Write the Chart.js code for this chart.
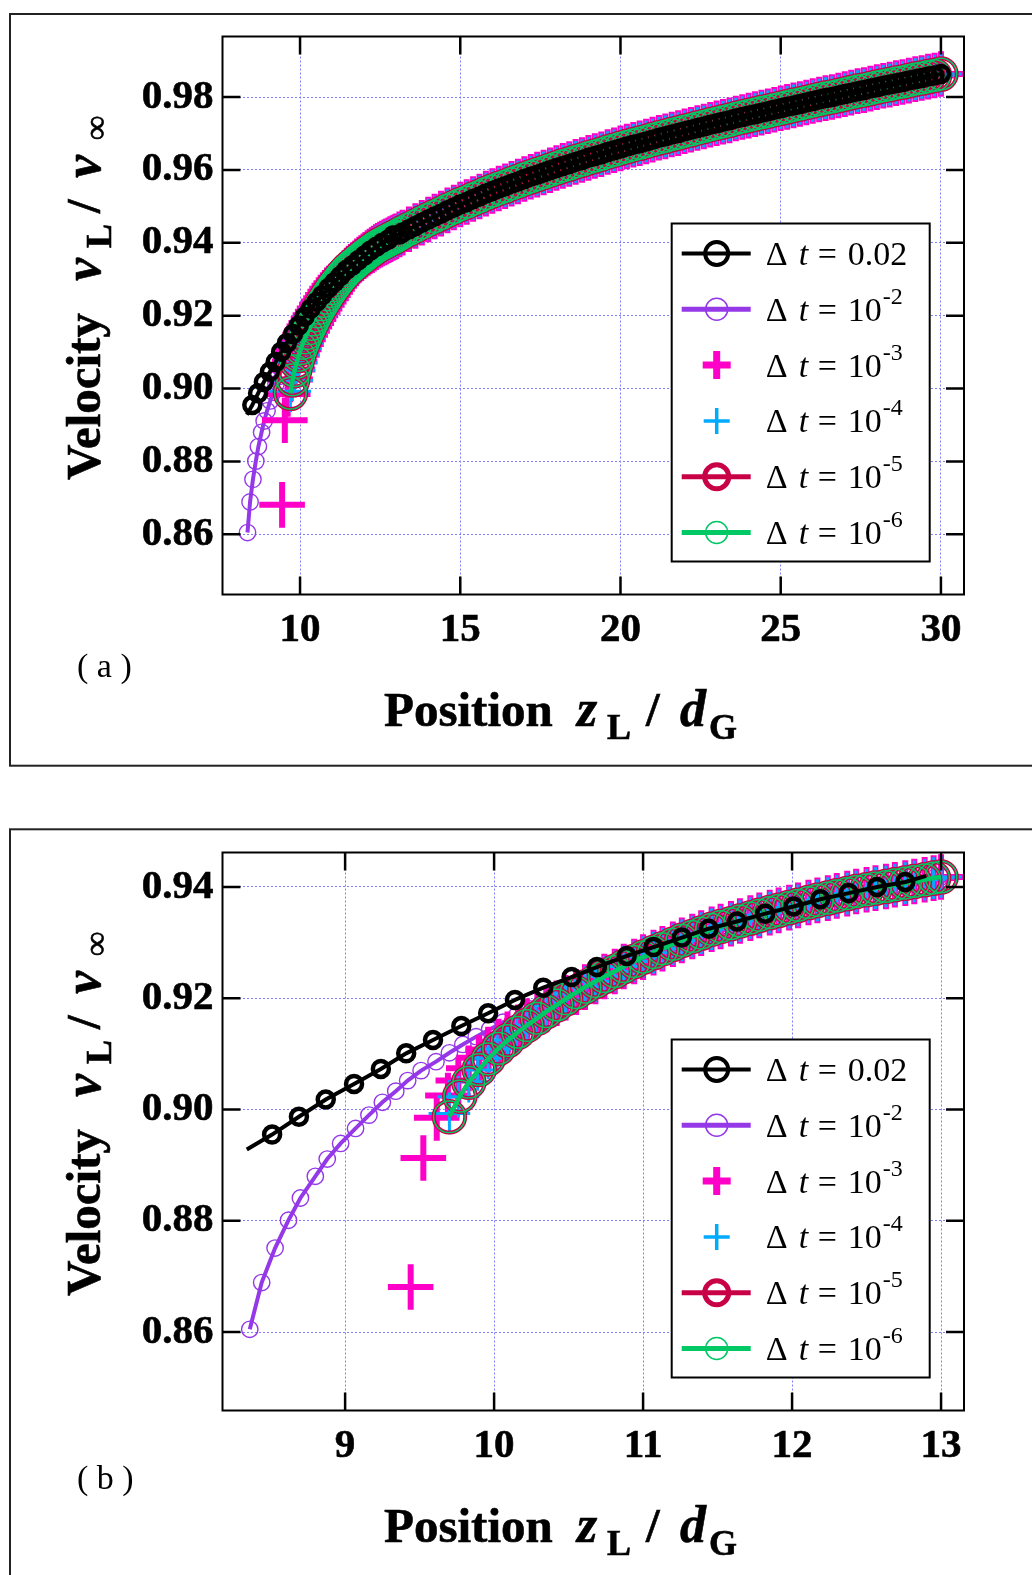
<!DOCTYPE html>
<html>
<head>
<meta charset="utf-8">
<script src="https://cdn.jsdelivr.net/npm/chart.js@4.4.0/dist/chart.umd.min.js"></script>
<style>
html,body{margin:0;padding:0;background:#fff;width:1032px;height:1575px;overflow:hidden}
canvas{position:absolute;left:0}
#figA{top:0}
#figB{top:816px}
</style>
</head>
<body>
<canvas id="figA" width="1032" height="800"></canvas>
<canvas id="figB" width="1032" height="759"></canvas>
<script>
// time steps, in legend order
const stepLabels = [['0.02', ''], ['10', '-2'], ['10', '-3'], ['10', '-4'], ['10', '-5'], ['10', '-6']];

// dt = 0.02 (first entry, and the last one in the close-up, carry the line only)
const blackZ = [8.34, 8.51, 8.69, 8.87, 9.06, 9.24, 9.41, 9.59, 9.78, 9.96, 10.14, 10.33, 10.52, 10.69, 10.89, 11.07, 11.26, 11.44, 11.63, 11.82, 12.01, 12.19, 12.38, 12.57, 12.76, 12.90];
const blackV = [0.8928, 0.8955, 0.8987, 0.9018, 0.9046, 0.9073, 0.9101, 0.9125, 0.9150, 0.9173, 0.9197, 0.9219, 0.9238, 0.9256, 0.9276, 0.9292, 0.9309, 0.9325, 0.9338, 0.9352, 0.9365, 0.9378, 0.9389, 0.9400, 0.9409, 0.9420];

// dt = 1e-2
const purpleZ = [8.36, 8.44, 8.53, 8.62, 8.70, 8.80, 8.88, 8.97, 9.07, 9.16, 9.25, 9.34, 9.42, 9.51, 9.61, 9.70, 9.79, 9.88, 9.97, 10.06, 10.15, 10.24, 10.33, 10.42, 10.51];
const purpleV = [0.8605, 0.8689, 0.8751, 0.8801, 0.8841, 0.8880, 0.8911, 0.8939, 0.8966, 0.8990, 0.9013, 0.9033, 0.9052, 0.9070, 0.9086, 0.9102, 0.9117, 0.9131, 0.9144, 0.9157, 0.9169, 0.9181, 0.9192, 0.9202, 0.9212];

// dt = 1e-3
const dt3Z = [9.44, 9.525, 9.615, 9.69, 9.76, 9.83, 9.90, 9.96, 10.03, 10.09, 10.16, 10.22, 10.29, 10.35, 10.42, 10.48, 10.55];
const dt3V = [0.8681, 0.8913, 0.8985, 0.9025, 0.9052, 0.9074, 0.9093, 0.9108, 0.9122, 0.9135, 0.9148, 0.9159, 0.9170, 0.9180, 0.9191, 0.9201, 0.9211];

// dt = 1e-4
const dt4Z = [9.70, 9.76, 9.83, 9.89, 9.96, 10.02, 10.09, 10.15, 10.22, 10.28, 10.35, 10.41, 10.48, 10.54];
const dt4V = [0.8993, 0.9023, 0.9050, 0.9071, 0.9092, 0.9109, 0.9125, 0.9139, 0.9152, 0.9164, 0.9176, 0.9187, 0.9198, 0.9208];

// dt = 1e-5 and 1e-6 fall on the same points
const dt5Z = [9.70, 9.77, 9.83, 9.90, 9.96, 10.03, 10.09, 10.16, 10.22, 10.29, 10.35, 10.42, 10.48, 10.55];
const dt5V = [0.8987, 0.9024, 0.9049, 0.9072, 0.9091, 0.9110, 0.9124, 0.9139, 0.9151, 0.9164, 0.9176, 0.9188, 0.9199, 0.9210];

// past z ~ 10.6 the runs with dt <= 1e-2 coincide
const sharedZ = [10.61, 10.68, 10.74, 10.81, 10.87, 10.94, 11.00, 11.07, 11.13, 11.20, 11.26, 11.33, 11.39, 11.46, 11.52, 11.59, 11.65, 11.72, 11.78, 11.85, 11.91, 11.98, 12.04, 12.11, 12.17, 12.24, 12.30, 12.37, 12.43, 12.50, 12.56, 12.63, 12.69, 12.76, 12.82, 12.89, 12.95, 13.00];
const sharedV = [0.9220, 0.9230, 0.9239, 0.9248, 0.9257, 0.9266, 0.9274, 0.9282, 0.9289, 0.9297, 0.9304, 0.9311, 0.9317, 0.9324, 0.9329, 0.9334, 0.9339, 0.9344, 0.9349, 0.9354, 0.9358, 0.9363, 0.9367, 0.9372, 0.9376, 0.9380, 0.9384, 0.9388, 0.9392, 0.9395, 0.9398, 0.9401, 0.9404, 0.9407, 0.9410, 0.9413, 0.9416, 0.9418];

// beyond z = 13 every run lies on one curve (full-range panel only)
const tailZ = [13.1, 13.2, 13.4, 13.6, 13.8, 14.0, 14.2, 14.4, 14.6, 14.8, 15.0, 15.2, 15.4, 15.6, 15.8, 16.0, 16.2, 16.4, 16.6, 16.8, 17.0,
  17.2, 17.4, 17.6, 17.8, 18.0, 18.2, 18.4, 18.6, 18.8, 19.0, 19.2, 19.4, 19.6, 19.8, 20.0, 20.2, 20.4, 20.6, 20.8, 21.0,
  21.2, 21.4, 21.6, 21.8, 22.0, 22.2, 22.4, 22.6, 22.8, 23.0, 23.2, 23.4, 23.6, 23.8, 24.0, 24.2, 24.4, 24.6, 24.8, 25.0,
  25.2, 25.4, 25.6, 25.8, 26.0, 26.2, 26.4, 26.6, 26.8, 27.0, 27.2, 27.4, 27.6, 27.8, 28.0, 28.2, 28.4, 28.6, 28.8, 29.0,
  29.2, 29.4, 29.6, 29.8, 30.0];
const tailV = [0.9423, 0.9428, 0.9437, 0.9446, 0.9455, 0.9464, 0.9472, 0.9480, 0.9489, 0.9497, 0.9505, 0.9512, 0.9520, 0.9527, 0.9535, 0.9542, 0.9549, 0.9555, 0.9562, 0.9568, 0.9575,
  0.9581, 0.9587, 0.9593, 0.9599, 0.9605, 0.9611, 0.9616, 0.9622, 0.9627, 0.9633, 0.9638, 0.9643, 0.9649, 0.9654, 0.9659, 0.9664, 0.9669, 0.9673, 0.9678, 0.9683,
  0.9688, 0.9692, 0.9697, 0.9701, 0.9706, 0.9710, 0.9715, 0.9719, 0.9724, 0.9728, 0.9732, 0.9736, 0.9741, 0.9745, 0.9749, 0.9753, 0.9757, 0.9761, 0.9765, 0.9769,
  0.9773, 0.9777, 0.9781, 0.9785, 0.9789, 0.9793, 0.9797, 0.9800, 0.9804, 0.9808, 0.9812, 0.9816, 0.9819, 0.9823, 0.9827, 0.9831, 0.9834, 0.9838, 0.9841, 0.9845,
  0.9849, 0.9852, 0.9856, 0.9859, 0.9863];

// axis ticks
const xTicksA = [10, 15, 20, 25, 30];
const yTicksA = [0.86, 0.88, 0.90, 0.92, 0.94, 0.96, 0.98];
const xTicksB = [9, 10, 11, 12, 13];
const yTicksB = [0.86, 0.88, 0.90, 0.92, 0.94];

const SERIF = '"Liberation Serif","Times New Roman",serif';
const COL = {
  black: '#000000',
  purple: '#9438e8',
  magenta: '#ff00c8',
  cyan: '#00aaff',
  red: '#c80046',
  green: '#00c864'
};

function pts(zs, vs) {
  return zs.map((z, i) => ({ x: z, y: vs[i] }));
}

// text pieces; bold ones get a hairline stroke so they read as heavy as Times bold
function drawRuns(c, list) {
  list.forEach(r => {
    c.font = r.f;
    c.fillText(r.t, r.x, r.y);
    if (r.f.indexOf('bold') >= 0) {
      c.lineWidth = 0.6;
      c.strokeStyle = c.fillStyle;
      c.strokeText(r.t, r.x, r.y);
    }
  });
}

function drawLegend(c, x0, y0) {
  c.fillStyle = '#fff';
  c.fillRect(x0, y0, 258, 338);
  c.strokeStyle = '#000';
  c.lineWidth = 2;
  c.strokeRect(x0, y0, 258, 338);

  const sym = [
    { col: COL.black, line: 4, mark: 'circle', r: 11.5, w: 4 },
    { col: COL.purple, line: 5, mark: 'circle', r: 11, w: 1.5 },
    { col: COL.magenta, line: 0, mark: 'plus', r: 14, w: 7 },
    { col: COL.cyan, line: 0, mark: 'plus', r: 13, w: 3.5 },
    { col: COL.red, line: 5, mark: 'circle', r: 12, w: 5 },
    { col: COL.green, line: 5, mark: 'circle', r: 11, w: 1.5 }
  ];
  const lx0 = x0 + 10, lx1 = x0 + 79, mx = x0 + 45;
  const tx = x0 + 94;

  sym.forEach((s, i) => {
    const cy = y0 + 30 + i * 55.8;
    c.strokeStyle = s.col;
    if (s.line) {
      c.lineWidth = s.line;
      c.beginPath();
      c.moveTo(lx0, cy);
      c.lineTo(lx1, cy);
      c.stroke();
    }
    c.lineWidth = s.w;
    c.beginPath();
    if (s.mark === 'circle') {
      c.arc(mx, cy, s.r, 0, Math.PI * 2);
    } else {
      c.moveTo(mx - s.r, cy); c.lineTo(mx + s.r, cy);
      c.moveTo(mx, cy - s.r); c.lineTo(mx, cy + s.r);
    }
    c.stroke();

    const by = cy + 11.5;
    c.fillStyle = '#000';
    c.textAlign = 'left';
    c.textBaseline = 'alphabetic';
    drawRuns(c, [
      { t: '\u0394', f: '34px ' + SERIF, x: tx, y: by },
      { t: 't', f: 'italic 34px ' + SERIF, x: tx + 33, y: by },
      { t: '=', f: '34px ' + SERIF, x: tx + 52, y: by }
    ]);
    const [base, sup] = stepLabels[i];
    c.font = '34px ' + SERIF;
    c.fillText(base, tx + 82, by);
    if (sup) {
      const w = c.measureText(base).width;
      c.font = '24px ' + SERIF;
      c.fillText(sup, tx + 82 + w + 1, by - 17);
    }
  });
}

function decorations(cfg) {
  return {
    id: 'decor',
    beforeDraw(chart) {
      const c = chart.ctx;
      c.save();
      c.fillStyle = '#fff';
      c.fillRect(0, 0, chart.width, chart.height);
      c.strokeStyle = '#222';
      c.lineWidth = 2;
      c.strokeRect(10, cfg.boxTop, 1100, cfg.boxH);
      c.restore();
    },
    afterDatasetsDraw(chart) {
      const c = chart.ctx, a = chart.chartArea;
      const sx = chart.scales.x, sy = chart.scales.y;
      c.save();

      // plot frame with inward tick marks on all four sides
      c.strokeStyle = '#000';
      c.lineWidth = 2;
      c.strokeRect(a.left, a.top, a.right - a.left, a.bottom - a.top);
      c.lineWidth = 2.5;
      c.beginPath();
      sx.ticks.forEach(t => {
        const p = sx.getPixelForValue(t.value);
        c.moveTo(p, a.bottom); c.lineTo(p, a.bottom - 18);
        c.moveTo(p, a.top); c.lineTo(p, a.top + 18);
      });
      sy.ticks.forEach(t => {
        const p = sy.getPixelForValue(t.value);
        c.moveTo(a.left, p); c.lineTo(a.left + 18, p);
        c.moveTo(a.right, p); c.lineTo(a.right - 18, p);
      });
      c.stroke();

      // tick labels
      c.fillStyle = '#000';
      const tickFont = 'bold 41px ' + SERIF;
      c.textBaseline = 'middle';
      c.textAlign = 'right';
      sy.ticks.forEach(t => drawRuns(c, [{ t: t.value.toFixed(2), f: tickFont, x: a.left - 9, y: sy.getPixelForValue(t.value) }]));
      c.textAlign = 'center';
      sx.ticks.forEach(t => drawRuns(c, [{ t: String(t.value), f: tickFont, x: sx.getPixelForValue(t.value), y: a.bottom + 36 }]));

      // x title: Position z_L / d_G
      c.textAlign = 'left';
      c.textBaseline = 'alphabetic';
      const bx = 725.5;
      drawRuns(c, [
        { t: 'Position', f: 'bold 49px ' + SERIF, x: 384, y: bx },
        { t: 'z', f: 'italic bold 52px ' + SERIF, x: 577, y: bx },
        { t: 'L', f: 'bold 36px ' + SERIF, x: 607, y: bx + 13 },
        { t: '/', f: 'bold 49px ' + SERIF, x: 646, y: bx },
        { t: 'd', f: 'italic bold 52px ' + SERIF, x: 680, y: bx },
        { t: 'G', f: 'bold 36px ' + SERIF, x: 709, y: bx + 13 }
      ]);

      // y title: Velocity v_L / v_inf
      c.save();
      c.translate(100, 480);
      c.rotate(-Math.PI / 2);
      drawRuns(c, [
        { t: 'Velocity', f: 'bold 49px ' + SERIF, x: 0, y: 0 },
        { t: 'v', f: 'italic bold 52px ' + SERIF, x: 199, y: 0 },
        { t: 'L', f: 'bold 36px ' + SERIF, x: 232, y: 11 },
        { t: '/', f: 'bold 49px ' + SERIF, x: 267, y: 0 },
        { t: 'v', f: 'italic bold 52px ' + SERIF, x: 302, y: 0 },
        { t: '\u221E', f: 'bold 34px ' + SERIF, x: 340, y: 7 }
      ]);
      c.restore();

      // panel tag
      c.font = '34px ' + SERIF;
      c.fillText(cfg.tag, 77, cfg.tagY);

      drawLegend(c, 671.7, 223.5);
      c.restore();
    }
  };
}

function makeChart(id, full, cfg) {
  const withTail = (z, v) => full ? pts(z.concat(tailZ), v.concat(tailV)) : pts(z, v);
  const fine = (z, v) => withTail(z.concat(sharedZ), v.concat(sharedV));
  const blackLast = full ? -1 : blackZ.length - 1;

  const datasets = [
    {
      label: 'dt = 0.02', data: withTail(blackZ, blackV), order: 0,
      borderColor: COL.black, borderWidth: 4,
      pointStyle: 'circle', pointBorderColor: COL.black, pointBackgroundColor: 'rgba(0,0,0,0)',
      pointBorderWidth: 4.5,
      pointRadius: ctx => (ctx.dataIndex === 0 || ctx.dataIndex === blackLast) ? 0 : 8
    },
    {
      label: 'dt = 1e-2', data: fine(purpleZ, purpleV), order: 5,
      borderColor: COL.purple, borderWidth: 4,
      pointStyle: 'circle', pointBorderColor: COL.purple, pointBackgroundColor: 'rgba(0,0,0,0)',
      pointBorderWidth: 1.4, pointRadius: 8.2
    },
    {
      label: 'dt = 1e-3', data: fine(dt3Z, dt3V), order: 4, showLine: false,
      pointStyle: 'cross', pointBorderColor: COL.magenta, pointBorderWidth: 6, pointRadius: 22.8
    },
    {
      label: 'dt = 1e-4', data: fine(dt4Z, dt4V), order: 3, showLine: false,
      pointStyle: 'cross', pointBorderColor: COL.cyan, pointBorderWidth: 3, pointRadius: 20.8
    },
    {
      label: 'dt = 1e-5', data: fine(dt5Z, dt5V), order: 2,
      borderColor: COL.red, borderWidth: 4,
      pointStyle: 'circle', pointBorderColor: COL.red, pointBackgroundColor: 'rgba(0,0,0,0)',
      pointBorderWidth: 4, pointRadius: 15.8
    },
    {
      label: 'dt = 1e-6', data: fine(dt5Z, dt5V), order: 1,
      borderColor: COL.green, borderWidth: 4.5,
      pointStyle: 'circle', pointBorderColor: COL.green, pointBackgroundColor: 'rgba(0,0,0,0)',
      pointBorderWidth: 1.5, pointRadius: 15.8
    }
  ];

  const gridStyle = { color: '#7f7fff', lineWidth: 1, drawTicks: false };
  const borderStyle = { display: false, dash: [2, 2] };

  return new Chart(document.getElementById(id), {
    type: 'line',
    data: { datasets },
    options: {
      responsive: false,
      animation: false,
      devicePixelRatio: 1,
      events: [],
      elements: { line: { tension: 0, fill: false } },
      layout: { padding: { left: 222.5, top: 36.5, right: 68, bottom: cfg.padBottom } },
      plugins: { legend: { display: false }, tooltip: { enabled: false } },
      scales: {
        x: {
          type: 'linear', min: cfg.xMin, max: cfg.xMax,
          grid: gridStyle, border: borderStyle, ticks: { display: false },
          afterBuildTicks: s => { s.ticks = cfg.xTicks.map(v => ({ value: v })); }
        },
        y: {
          type: 'linear', min: cfg.yMin, max: cfg.yMax,
          grid: gridStyle, border: borderStyle, ticks: { display: false },
          afterBuildTicks: s => { s.ticks = cfg.yTicks.map(v => ({ value: v })); }
        }
      }
    },
    plugins: [decorations(cfg)]
  });
}

makeChart('figA', true, {
  xMin: 7.58, xMax: 30.72, yMin: 0.8435, yMax: 0.9966,
  xTicks: xTicksA, yTicks: yTicksA, padBottom: 205.5,
  boxTop: 14, boxH: 751.7, tag: '( a )', tagY: 677
});

makeChart('figB', false, {
  xMin: 8.177, xMax: 13.154, yMin: 0.8459, yMax: 0.9462,
  xTicks: xTicksB, yTicks: yTicksB, padBottom: 164.5,
  boxTop: 13.3, boxH: 1000, tag: '( b )', tagY: 673
});
</script>
</body>
</html>
